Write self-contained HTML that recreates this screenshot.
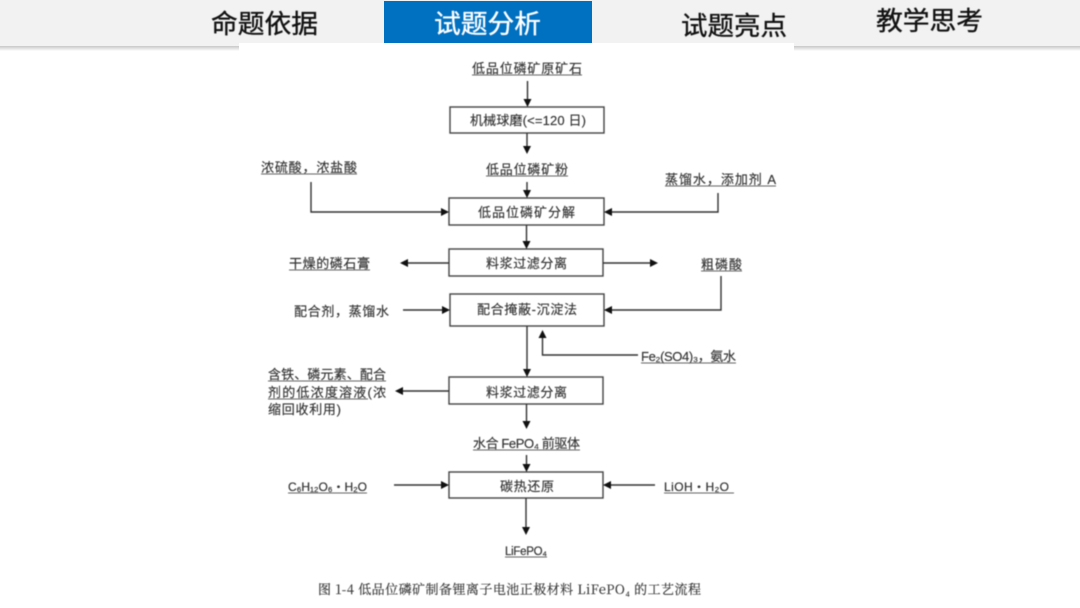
<!DOCTYPE html>
<html lang="zh">
<head>
<meta charset="utf-8">
<style>
html,body{margin:0;padding:0;background:#fff;width:1080px;height:608px;overflow:hidden}
svg{display:block}
text{font-family:"Liberation Sans","Noto Sans CJK SC",sans-serif}
.h{font-size:26px;fill:#111;stroke:#111;stroke-width:.35}
.t{font-size:13px;fill:#333;stroke:#333;stroke-width:.15}
.e{font-size:12px;fill:#333;stroke:#333;stroke-width:.2}
.f{font-family:"Noto Serif CJK SC","Liberation Serif",serif;font-size:13px;fill:#333;stroke:#333;stroke-width:.15}
.b{fill:#fff;stroke:#444;stroke-width:1.4}
.l{stroke:#333;stroke-width:1.4;fill:none}
.u{stroke:#666;stroke-width:1.1;fill:none}
.a{fill:#111}
.soft{filter:blur(.4px)}
</style>
</head>
<body>
<svg width="1080" height="608" viewBox="0 0 1080 608" xmlns="http://www.w3.org/2000/svg">
<defs><linearGradient id="s" x1="0" y1="0" x2="0" y2="1"><stop offset="0" stop-color="#c8c8c8"/><stop offset="1" stop-color="#fff"/></linearGradient></defs>
<rect x="0" y="0" width="1080" height="46" fill="#f2f2f2"/>
<rect x="0" y="46" width="1080" height="5" fill="url(#s)"/>
<rect x="384" y="1" width="208" height="42" fill="#0070c0"/>
<rect x="239" y="43" width="555" height="565" fill="#fff"/>
<rect x="0" y="51" width="239" height="557" fill="#fff"/>
<g class="soft">
<text class="h" x="211" y="33" textLength="107" lengthAdjust="spacingAndGlyphs">命题依据</text>
<text class="h" x="434" y="33" textLength="107" lengthAdjust="spacingAndGlyphs" style="fill:#fff;stroke:#fff">试题分析</text>
<text class="h" x="681" y="35" textLength="106" lengthAdjust="spacingAndGlyphs">试题亮点</text>
<text class="h" x="876" y="30" textLength="107" lengthAdjust="spacingAndGlyphs">教学思考</text>

<rect class="b" x="450" y="107" width="154" height="26"/>
<rect class="b" x="449" y="198" width="155" height="27"/>
<rect class="b" x="449" y="249" width="154" height="27"/>
<rect class="b" x="450" y="294" width="154" height="32"/>
<rect class="b" x="449" y="377" width="154" height="27"/>
<rect class="b" x="449" y="472" width="154" height="26"/>

<text class="t" x="472" y="73" textLength="110">低品位磷矿原矿石</text>
<line class="u" x1="472" y1="75" x2="582" y2="75"/>
<text class="t" x="470" y="125" textLength="116">机械球磨(&lt;=120 日)</text>
<text class="t" x="486" y="174" textLength="82">低品位磷矿粉</text>
<line class="u" x1="486" y1="176" x2="568" y2="176"/>
<text class="t" x="261" y="172" textLength="96">浓硫酸，浓盐酸</text>
<line class="u" x1="261" y1="174" x2="357" y2="174"/>
<text class="t" x="665" y="184" textLength="111">蒸馏水，添加剂 A</text>
<line class="u" x1="665" y1="186" x2="776" y2="186"/>
<text class="t" x="478" y="217" textLength="97">低品位磷矿分解</text>
<text class="t" x="486" y="268" textLength="81">料浆过滤分离</text>
<text class="t" x="289" y="268" textLength="81">干燥的磷石膏</text>
<line class="u" x1="289" y1="270" x2="370" y2="270"/>
<text class="t" x="701" y="269" textLength="41">粗磷酸</text>
<line class="u" x1="701" y1="271" x2="742" y2="271"/>
<text class="t" x="294" y="316" textLength="95">配合剂，蒸馏水</text>
<text class="t" x="477" y="314" textLength="100">配合掩蔽-沉淀法</text>
<text class="t" x="641" y="361" textLength="95">Fe₂(SO4)₃，氨水</text>
<line class="u" x1="641" y1="363" x2="736" y2="363"/>
<text class="t" x="268" y="379" textLength="118">含铁、磷元素、配合</text>
<line class="u" x1="268" y1="381" x2="386" y2="381"/>
<text class="t" x="268" y="397" textLength="118">剂的低浓度溶液(浓</text>
<line class="u" x1="268" y1="399" x2="368" y2="399"/>
<text class="t" x="268" y="414" textLength="73">缩回收利用)</text>
<text class="t" x="486" y="397" textLength="81">料浆过滤分离</text>
<text class="t" x="473" y="448" textLength="107">水合 FePO₄ 前驱体</text>
<line class="u" x1="473" y1="450" x2="580" y2="450"/>
<text class="e" x="288" y="491" textLength="79" lengthAdjust="spacing">C₆H₁₂O₆・H₂O</text>
<line class="u" x1="288" y1="493" x2="367" y2="493"/>
<text class="t" x="500" y="491" textLength="54">碳热还原</text>
<text class="e" x="664" y="491" textLength="65" lengthAdjust="spacing">LiOH・H₂O</text>
<line class="u" x1="664" y1="493" x2="734" y2="493"/>
<text class="e" x="505" y="555" textLength="42" lengthAdjust="spacing" style="font-size:11.500px">LiFePO₄</text>
<line class="u" x1="505" y1="557" x2="547" y2="557"/>
<text class="f" x="318" y="594" textLength="383">图 1-4 低品位磷矿制备锂离子电池正极材料 LiFePO₄ 的工艺流程</text>

<path class="l" d="M527.500 81V100M527 133V147M527 182V191M526.500 225V242M527 326V370M526.500 404V422M526.500 455V465M526 498V528"/>
<path class="l" d="M311 182V212H442M718 193V212H612M449 263H408M603 263H650M403 310H442M721 276V310H612M542.500 337V355H638M449 391H403M394 485H442M655 485H611"/>
<g class="a">
<path d="M523.500 99h8l-4 8zM523 146h8l-4 8zM523 190h8l-4 8zM522.500 241h8l-4 8zM523 369h8l-4 8zM522.500 421h8l-4 8zM522.500 464h8l-4 8zM522 527h8l-4 8z"/>
<path d="M441 208v8l8-4zM612 208v8l-8-4zM408 259v8l-8-4zM650 259v8l8-4zM442 306v8l8-4zM612 306v8l-8-4zM538.500 338h8l-4-8zM403 387v8l-8-4zM441 481v8l8-4zM611 481v8l-8-4z"/>
</g>
</g>
</svg>
</body>
</html>
